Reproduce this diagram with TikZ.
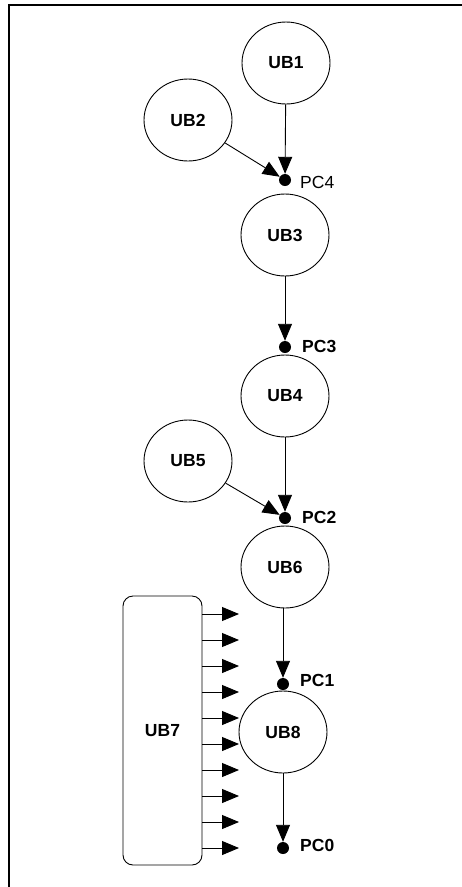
\documentclass[tikz,border=0pt]{standalone}
\usepackage{fontspec}
\setmainfont{Liberation Sans}
\usetikzlibrary{shapes.geometric,arrows.meta}
\begin{document}
\begin{tikzpicture}[x=1pt,y=-1pt,
  ub/.style={ellipse,draw,line width=0.9pt,minimum width=88pt,minimum height=82pt,inner sep=0pt,font=\fontsize{17.5}{20}\selectfont\bfseries},
  pc/.style={circle,fill=black,minimum size=12pt,inner sep=0pt},
  lab/.style={anchor=west,inner sep=0pt,font=\fontsize{17.5}{20}\selectfont\bfseries},
  arr/.style={line width=0.9pt,-{Triangle[length=17pt,width=14pt]}}]
\useasboundingbox (0,0) rectangle (461,887);
\draw[line width=2pt] (9,890) -- (9,5) -- (465,5);
\node[ub] (ub1) at (286,63) {UB1};
\node[ub] (ub2) at (188,120) {UB2};
\node[pc] (pc4) at (285,180) {};
\node[anchor=west,inner sep=0pt,font=\fontsize{17.5}{20}\selectfont] (l4) at (300,182) {PC4};
\node[ub] (ub3) at (285,235) {UB3};
\node[pc] (pc3) at (285,347) {};
\node[lab] (l3) at (302,346) {PC3};
\node[ub] (ub4) at (285,396) {UB4};
\node[ub] (ub5) at (188,461) {UB5};
\node[pc] (pc2) at (285,518) {};
\node[lab] (l2) at (302,517) {PC2};
\node[ub] (ub6) at (285,567) {UB6};
\node[pc] (pc1) at (283,684) {};
\node[lab] (l1) at (300,680) {PC1};
\node[ub] (ub8) at (283,732) {UB8};
\node[pc] (pc0) at (283,848) {};
\node[lab] (l0) at (300,845) {PC0};
\node[draw,line width=0.9pt,rounded corners=10pt,minimum width=79pt,minimum height=269pt,inner sep=0pt,font=\fontsize{17.5}{20}\selectfont\bfseries] (ub7) at (162.5,730.5) {UB7};
\draw[arr] (ub1) -- (pc4);
\draw[arr] (ub2) -- (pc4);
\draw[arr] (ub3) -- (pc3);
\draw[arr] (ub4) -- (pc2);
\draw[arr] (ub5) -- (pc2);
\draw[arr] (ub6.south -| pc1) -- (pc1);
\draw[arr] (ub8.south) -- (pc0);
\foreach \y [count=\i] in {614,640,666,692,718,744,770,796,822,848}{
  \coordinate (t\i) at (239,\y);
  \draw[arr] (ub7.east |- t\i) -- (t\i);
}
\end{tikzpicture}
\end{document}
